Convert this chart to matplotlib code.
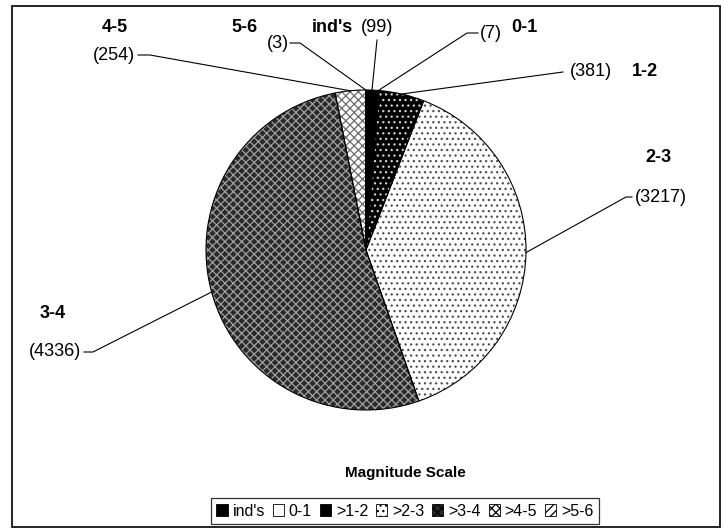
import matplotlib
matplotlib.use("Agg")
import matplotlib.pyplot as plt
from matplotlib.patches import Patch, Rectangle
from matplotlib.lines import Line2D
import numpy as np

plt.rcParams['font.family'] = ['Liberation Sans', 'DejaVu Sans']
plt.rcParams['hatch.linewidth'] = 0.9

# data
names = ["ind's", "0-1", "1-2", "2-3", "3-4", "4-5", "5-6"]
legend_names = ["ind's", "0-1", ">1-2", ">2-3", ">3-4", ">4-5", ">5-6"]
counts = [99, 7, 381, 3217, 4336, 254, 3]

# fill styles (face, hatch, hatch colour)
faces = ['black', 'white', 'black', 'white', '#2a2a2a', 'white', 'white']
hatches = [None, None, '...', '...', 'xxxx', 'xxxx', '////']
hcols = ['black', 'white', '#d0d0d0', '#505050', '#a0a0a0', '#6a6a6a', '#555555']

W, H = 725, 529
fig = plt.figure(figsize=(W / 100, H / 100), dpi=100)

def fx(x):
    return x / W

def fy(y):
    return 1 - y / H

# outer frame
fig.add_artist(Rectangle((fx(12), fy(527)), fx(720) - fx(12), fy(6) - fy(527),
                         transform=fig.transFigure, fill=False, edgecolor='black', lw=1.2))

# pie
cx, cy, r = 366, 250, 160
ax = fig.add_axes([fx(cx - r), fy(cy + r), 2 * r / W, 2 * r / H])
wedges, _ = ax.pie(counts, startangle=90, counterclock=False, colors=faces,
                   wedgeprops=dict(linewidth=0))
for w, h, hc in zip(wedges, hatches, hcols):
    w.set_edgecolor(hc)
    if h:
        w.set_hatch(h)
outline, _ = ax.pie(counts, startangle=90, counterclock=False, colors=['none'] * len(counts),
                    wedgeprops=dict(linewidth=0.8, edgecolor='black'))
ax.set_xlim(-1, 1)
ax.set_ylim(-1, 1)
ax.set_aspect('auto')
ax.axis('off')

fig.canvas.draw()
inv = fig.transFigure.inverted()

def edge_point(w):
    mid = np.deg2rad((w.theta1 + w.theta2) / 2)
    p = ax.transData.transform((np.cos(mid), np.sin(mid)))
    return inv.transform(p)

# label layout in pixels: name pos, value pos, leader start points
layout = {
    "ind's": dict(name=(332, 28), val=(377, 28), lead=[(377, 40)]),
    "0-1": dict(name=(524, 28), val=(491, 33), lead=[(478, 33), (467, 33)]),
    "1-2": dict(name=(645, 72), val=(591, 72), lead=[(563, 72)]),
    "2-3": dict(name=(658, 157), val=(661, 198), lead=[(632, 197), (626, 197)]),
    "3-4": dict(name=(53, 314), val=(55, 352), lead=[(84, 352), (93, 352)]),
    "4-5": dict(name=(115, 28), val=(114, 55), lead=[(138, 55), (150, 55)]),
    "5-6": dict(name=(245, 28), val=(278, 43), lead=[(290, 43), (300, 43)]),
}

for nm, cnt, w in zip(names, counts, outline):
    L = layout[nm]
    fig.text(fx(L['name'][0]), fy(L['name'][1]), nm, ha='center', va='center',
             fontsize=13, fontweight='bold')
    fig.text(fx(L['val'][0]), fy(L['val'][1]), f"({cnt})", ha='center', va='center',
             fontsize=13)
    pts = [(fx(x), fy(y)) for x, y in L['lead']] + [tuple(edge_point(w))]
    xs, ys = zip(*pts)
    fig.add_artist(Line2D(xs, ys, transform=fig.transFigure, color='black', lw=0.8))

# legend
fig.text(fx(405), fy(473), "Magnitude Scale", ha='center', va='center',
         fontsize=11, fontweight='bold')
handles = [Patch(facecolor=f, hatch=h, edgecolor='black', lw=0.6)
           for f, h in zip(faces, hatches)]
leg = fig.legend(handles, legend_names, loc='center', bbox_to_anchor=(fx(405), fy(511)),
                 ncol=7, fontsize=11.5, frameon=True, fancybox=False, edgecolor='black',
                 handlelength=0.7, handleheight=0.7, handletextpad=0.3,
                 columnspacing=0.5, borderpad=0.35)
leg.get_frame().set_linewidth(0.9)

fig.savefig("out.png", dpi=100)
